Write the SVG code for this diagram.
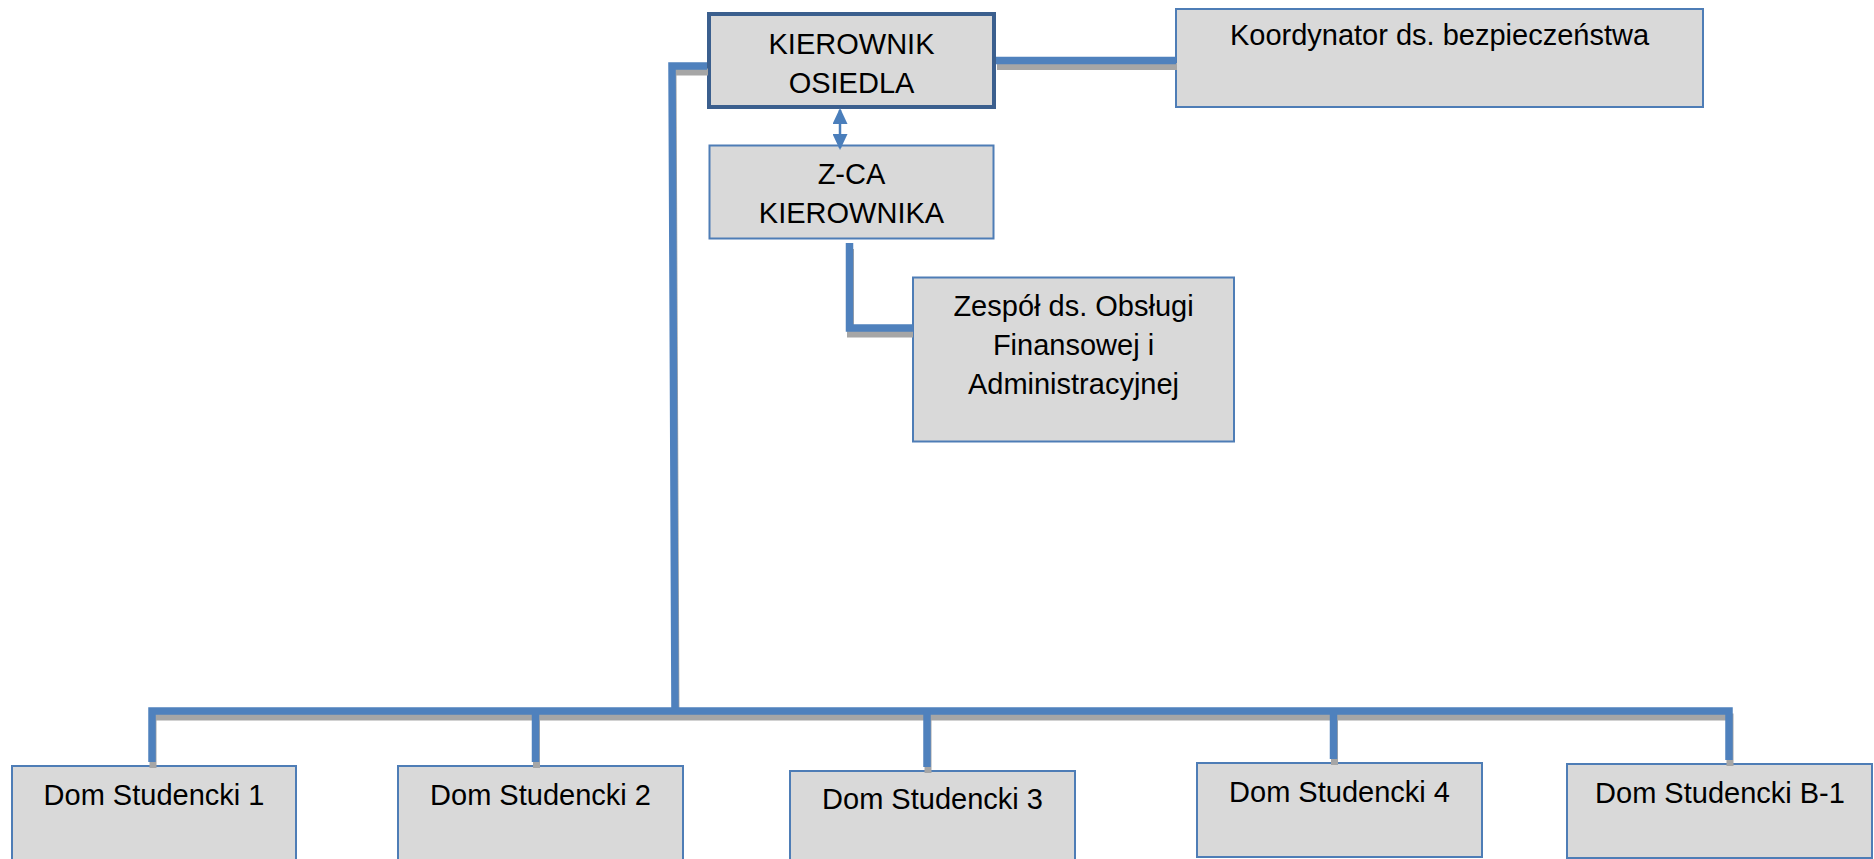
<svg xmlns="http://www.w3.org/2000/svg" width="1874" height="859" viewBox="0 0 1874 859">
<style>
.box{fill:#d9d9d9;stroke:#4e7db6;stroke-width:2}
.boss{fill:#d9d9d9;stroke:#3b5f8e;stroke-width:4}
.t{font-family:"Liberation Sans",Arial,sans-serif;font-size:29px;fill:#000;text-anchor:middle}
.sh{fill:none;stroke:#a6a6a6;stroke-width:7}
.ln{fill:none;stroke:#4f81bd;stroke-width:7.5}
.arr{stroke:#4a7ebb;stroke-width:2.5;fill:none}
</style>
<defs>
<marker id="ah" viewBox="0 0 16 15" refX="14" refY="7.5" markerWidth="16" markerHeight="15" markerUnits="userSpaceOnUse" orient="auto-start-reverse">
<path d="M0,0 L16,7.5 L0,15 z" fill="#4a7ebb"/>
</marker>
</defs>
<rect width="1874" height="859" fill="#fff"/>
<g id="nodes">
<g id="kierownik"><rect class="boss" x="709" y="14" width="285" height="93"/><text class="t" x="851.5" y="54">KIEROWNIK</text><text class="t" x="851.5" y="93">OSIEDLA</text></g>
<g id="koordynator"><rect class="box" x="1176" y="9" width="527" height="98"/><text class="t" x="1439.5" y="45">Koordynator ds. bezpieczeństwa</text></g>
<g id="zca"><rect class="box" x="709.5" y="145.5" width="284" height="93"/><text class="t" x="851.5" y="184">Z-CA</text><text class="t" x="851.5" y="223">KIEROWNIKA</text></g>
<g id="zespol"><rect class="box" x="913" y="277.5" width="321" height="164"/><text class="t" x="1073.5" y="316">Zespół ds. Obsługi</text><text class="t" x="1073.5" y="355">Finansowej i</text><text class="t" x="1073.5" y="394">Administracyjnej</text></g>
<g id="ds1"><rect class="box" x="12" y="766" width="284" height="100"/><text class="t" x="154" y="805">Dom Studencki 1</text></g>
<g id="ds2"><rect class="box" x="398" y="766" width="285" height="100"/><text class="t" x="540.5" y="805">Dom Studencki 2</text></g>
<g id="ds3"><rect class="box" x="790" y="771" width="285" height="100"/><text class="t" x="932.5" y="809">Dom Studencki 3</text></g>
<g id="ds4"><rect class="box" x="1197" y="763" width="285" height="94"/><text class="t" x="1339.5" y="802">Dom Studencki 4</text></g>
<g id="dsb1"><rect class="box" x="1567" y="764" width="305" height="94"/><text class="t" x="1720" y="803">Dom Studencki B-1</text></g>
</g>
<g id="connectors">
<g id="shadows" class="sh" transform="translate(1,6)">
<path d="M707,66 H672 L675,711"/>
<path d="M996,60.5 H1176"/>
<path d="M849.5,243 V328 H912"/>
<path d="M152,762 V711 H1729 V760"/>
<path d="M535.5,711 V762"/>
<path d="M927,711 V767"/>
<path d="M1333.5,711 V759"/>
</g>
<g id="lines" class="ln">
<path d="M707,66 H672 L675,711"/>
<path d="M996,60.5 H1176"/>
<path d="M849.5,243 V328 H913"/>
<path d="M152,762 V711 H1729 V760"/>
<path d="M535.5,711 V762"/>
<path d="M927,711 V767"/>
<path d="M1333.5,711 V759"/>
</g>
<line class="arr" x1="840" y1="110" x2="840" y2="148" marker-start="url(#ah)" marker-end="url(#ah)"/>
</g>
</svg>
